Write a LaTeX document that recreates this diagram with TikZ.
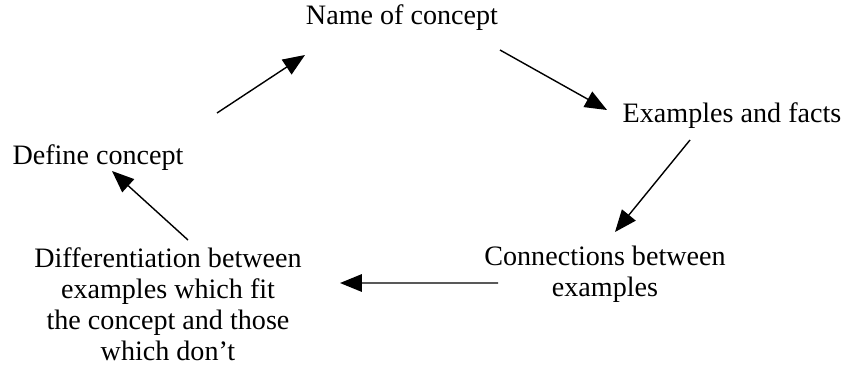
\documentclass[tikz,border=0pt]{standalone}
\usepackage{fontspec}
\setmainfont{Liberation Serif}
\usetikzlibrary{arrows.meta,positioning,calc}

\begin{document}
\begin{tikzpicture}
\useasboundingbox (0,0) rectangle (16.9,7.44);
\tikzset{concept/.style={inner sep=0pt, align=center, font=\fontsize{16}{17.6}\selectfont},
         link/.style={line width=0.8pt, -{Triangle[length=12.5pt,width=10pt]}}}
\node[concept] (name) at (8.04,7.08) {Name of concept};
\node[concept] (examples) at (14.64,5.12) {Examples and facts};
\node[concept] (define) at (1.96,4.28) {Define concept};
\node[concept] (connections) at (12.10,1.96) {Connections between\\examples};
\node[concept] (diff) at (3.36,1.36) {Differentiation between\\examples which fit\\the concept and those\\which don't};
% arrows round the cycle
\draw[link] ([shift={(2.38,0.90)}]define.center) -- ([shift={(-1.94,-0.74)}]name.center);
\draw[link] ([shift={(1.96,-0.64)}]name.center) -- ([shift={(-2.50,0.12)}]examples.center);
\draw[link] ([shift={(-0.84,-0.48)}]examples.center) -- ([shift={(0.20,0.84)}]connections.center);
\draw[link] ([shift={(-2.14,-0.18)}]connections.center) -- ([shift={(3.44,0.42)}]diff.center);
\draw[link] ([shift={(0.40,1.28)}]diff.center) -- ([shift={(0.28,-0.26)}]define.center);
\end{tikzpicture}
\end{document}
